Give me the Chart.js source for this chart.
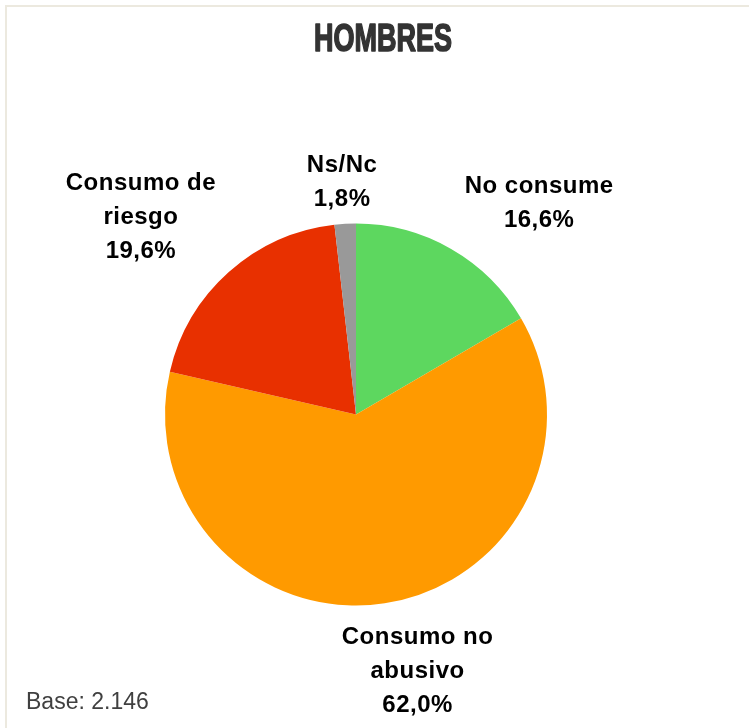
<!DOCTYPE html>
<html>
<head>
<meta charset="utf-8">
<script src="https://cdn.jsdelivr.net/npm/chart.js@4.4.1/dist/chart.umd.min.js"></script>
<style>
  html, body { margin: 0; padding: 0; background: #fff; overflow: hidden; }
  #frame {
    position: absolute; left: 5px; top: 5px;
    width: 760px; height: 740px;
    border: 2px solid #ece9df;
  }
  #wrap { position: absolute; left: 0; top: 0; width: 752px; height: 721px; }
</style>
</head>
<body>
<div id="frame">
  <div id="wrap"><canvas id="graph1"></canvas></div>
</div>
<script>
// datos
const categorias = [['No consume'], ['Consumo no', 'abusivo'], ['Consumo de', 'riesgo'], ['Ns/Nc']];
const porcentajes = [16.6, 62.0, 19.6, 1.8];
const colores = ['#5dd75f', '#ff9a00', '#e83000', '#999999'];
const titulo = 'HOMBRES';
const base = 'Base: 2.146';

// titulo estrecho, etiquetas fuera de la tarta y la base
const etiquetasPlugin = {
    id: 'etiquetas',
    afterDatasetsDraw(chart, args, opts) {
        const ctx = chart.ctx;
        const meta = chart.getDatasetMeta(0);
        const lh = 34;
        ctx.save();

        // titulo tipo impact: fuente negrita comprimida en horizontal
        ctx.save();
        ctx.font = 'bold 39px "Liberation Sans", Arial, sans-serif';
        ctx.fillStyle = '#333333';
        ctx.strokeStyle = '#333333';
        ctx.lineWidth = 1.6;
        ctx.lineJoin = 'round';
        ctx.textAlign = 'center';
        ctx.textBaseline = 'alphabetic';
        const tw = ctx.measureText(titulo).width;
        const sx = 138 / tw;
        ctx.translate(chart.width / 2, 44);
        ctx.scale(sx, 1);
        ctx.fillText(titulo, 0, 0);
        ctx.strokeText(titulo, 0, 0);
        ctx.restore();

        ctx.font = 'bold 24px "Liberation Sans", Arial, sans-serif';
        ctx.letterSpacing = '0.5px';
        ctx.fillStyle = '#000';
        ctx.textBaseline = 'alphabetic';
        meta.data.forEach((arc, i) => {
            const mid = (arc.startAngle + arc.endAngle) / 2;
            const dx = Math.cos(mid), dy = Math.sin(mid);
            const nudge = opts.nudge[i] || [0, 0];
            const ax = arc.x + dx * arc.outerRadius * 1.1 + nudge[0];
            const ay = arc.y + dy * arc.outerRadius * 1.1 + nudge[1];
            const lines = categorias[i].concat([porcentajes[i].toFixed(1).replace('.', ',') + '%']);
            let align = 'center';
            if (dx > 0.2) align = 'left';
            if (dx < -0.2) align = 'right';
            const w = Math.max(...lines.map(l => ctx.measureText(l).width));
            let cx = ax;
            if (align === 'left') cx = ax + w / 2;
            if (align === 'right') cx = ax - w / 2;
            ctx.textAlign = 'center';
            lines.forEach((l, j) => {
                let y;
                if (dy < 0) y = ay + 3 - (lines.length - 1 - j) * lh;
                else y = ay + 26 + j * lh;
                ctx.fillText(l, cx, y);
            });
        });

        ctx.letterSpacing = '0px';
        ctx.font = '23px "Liberation Sans", Arial, sans-serif';
        ctx.fillStyle = '#404040';
        ctx.textAlign = 'left';
        ctx.fillText(base, 19, 702);
        ctx.restore();
    }
};

const chart1 = new Chart(document.getElementById('graph1').getContext('2d'), {
    type: 'pie',
    data: {
        labels: categorias,
        datasets: [{
            data: porcentajes,
            backgroundColor: colores,
            borderWidth: 0
        }]
    },
    options: {
        responsive: true,
        maintainAspectRatio: false,
        animation: false,
        radius: 191,
        layout: {
            padding: { left: 0, right: 54, top: 94, bottom: 0 }
        },
        plugins: {
            legend: { display: false },
            tooltip: { enabled: false },
            title: { display: false },
            etiquetas: {
                nudge: [[4, -8], [30, -4], [0, -3], [-2, -2]]
            }
        }
    },
    plugins: [etiquetasPlugin]
});
</script>
</body>
</html>
